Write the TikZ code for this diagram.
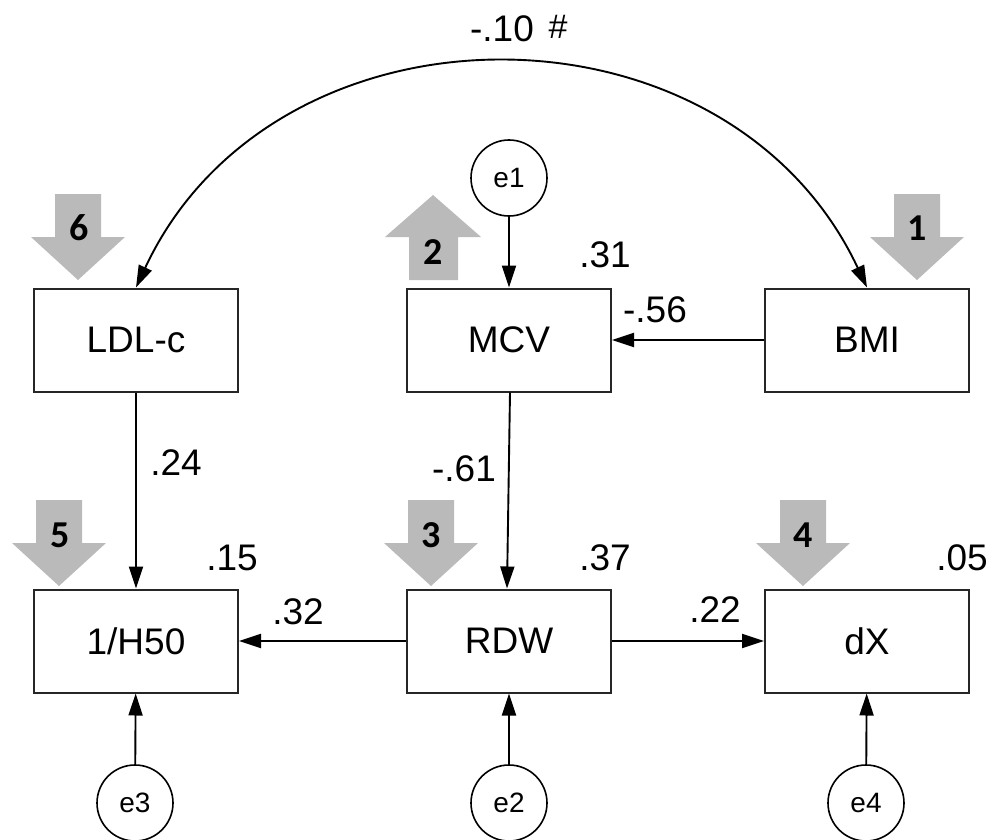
\documentclass[tikz,border=0pt]{standalone}
\usepackage{fontspec}
\setmainfont{Liberation Sans}
\newfontfamily\numfont{Carlito}
\usetikzlibrary{arrows.meta}
\tikzset{
 x=1pt,y=-1pt,
 vbox/.style={draw=black!85,line width=2pt,fill=white,minimum width=204pt,minimum height=103pt,inner sep=0pt,font=\fontsize{37}{37}\selectfont},
 err/.style={circle,draw=black,line width=1.6pt,fill=white,minimum size=76pt,inner sep=0pt,font=\fontsize{28}{28}\selectfont},
 conn/.style={line width=1.9pt,-{Triangle[length=22pt,width=14pt]}},
 biconn/.style={line width=1.9pt,{Triangle[length=22pt,width=14pt]}-{Triangle[length=22pt,width=14pt]}},
 coef/.style={inner sep=0pt,font=\fontsize{37}{37}\selectfont},
 gray arrow/.style={fill=black!27,draw=none},
 num/.style={inner sep=0pt,font=\numfont\bfseries\fontsize{38}{38}\selectfont},
}
\newcommand{\downarr}[2]{\fill[gray arrow] (#1-23,#2-86) -- (#1+23,#2-86) -- (#1+23,#2-43) -- (#1+47,#2-43) -- (#1,#2) -- (#1-47,#2-43) -- (#1-23,#2-43) -- cycle;}
\begin{document}
\begin{tikzpicture}
\useasboundingbox (0,0) rectangle (993,840);
\node[vbox] (ldl) at (136,340) {LDL-c};
\node[vbox] (mcv) at (509,340) {MCV};
\node[vbox] (bmi) at (867,340) {BMI};
\node[vbox] (h50) at (136,641) {1/H50};
\node[vbox] (rdw) at (509,641) {RDW};
\node[vbox] (dx) at (867,641) {dX};
\node[err] (e1) at (509,178) {e1};
\node[err] (e3) at (135,803) {e3};
\node[err] (e2) at (509,803) {e2};
\node[err] (e4) at (866,803) {e4};
\draw[conn] (e1) -- (mcv);
\draw[conn] (bmi) -- (mcv);
\draw[conn] (ldl) -- (h50);
\draw[conn] ([xshift=1pt]mcv.south) -- ([xshift=-2pt]rdw.north);
\draw[conn] (rdw) -- (h50);
\draw[conn] (rdw) -- (dx);
\draw[conn] (e3) -- (h50);
\draw[conn] (e2) -- (rdw);
\draw[conn] (e4) -- (dx);
\draw[biconn] (ldl.north) .. controls (275,-10) and (727,-10) .. (bmi.north);
\downarr{78}{280}
\downarr{917}{280}
\downarr{59}{586}
\downarr{431}{586}
\downarr{803}{586}
\fill[gray arrow] (409,280) -- (458,280) -- (458,237) -- (481,237) -- (433,195) -- (385,237) -- (409,237) -- cycle;
\node[num] (n6) at (79,228) {6};
\node[num] (n2) at (433,252) {2};
\node[num] (n1) at (917,228) {1};
\node[num] (n5) at (60,535) {5};
\node[num] (n3) at (431,535) {3};
\node[num] (n4) at (803,535) {4};
\node[coef] (a) at (502,29) {-.10};
\node[inner sep=0pt,font=\fontsize{34}{34}\selectfont] (a2) at (558,27) {\#};
\node[coef] (b) at (605,255) {.31};
\node[coef] (c) at (655,310) {-.56};
\node[coef] (d) at (176,463) {.24};
\node[coef] (e) at (464,469) {-.61};
\node[coef] (f) at (232,558) {.15};
\node[coef] (g) at (605,558) {.37};
\node[coef] (h) at (962,558) {.05};
\node[coef] (i) at (298,612) {.32};
\node[coef] (j) at (715,610) {.22};
\end{tikzpicture}
\end{document}
